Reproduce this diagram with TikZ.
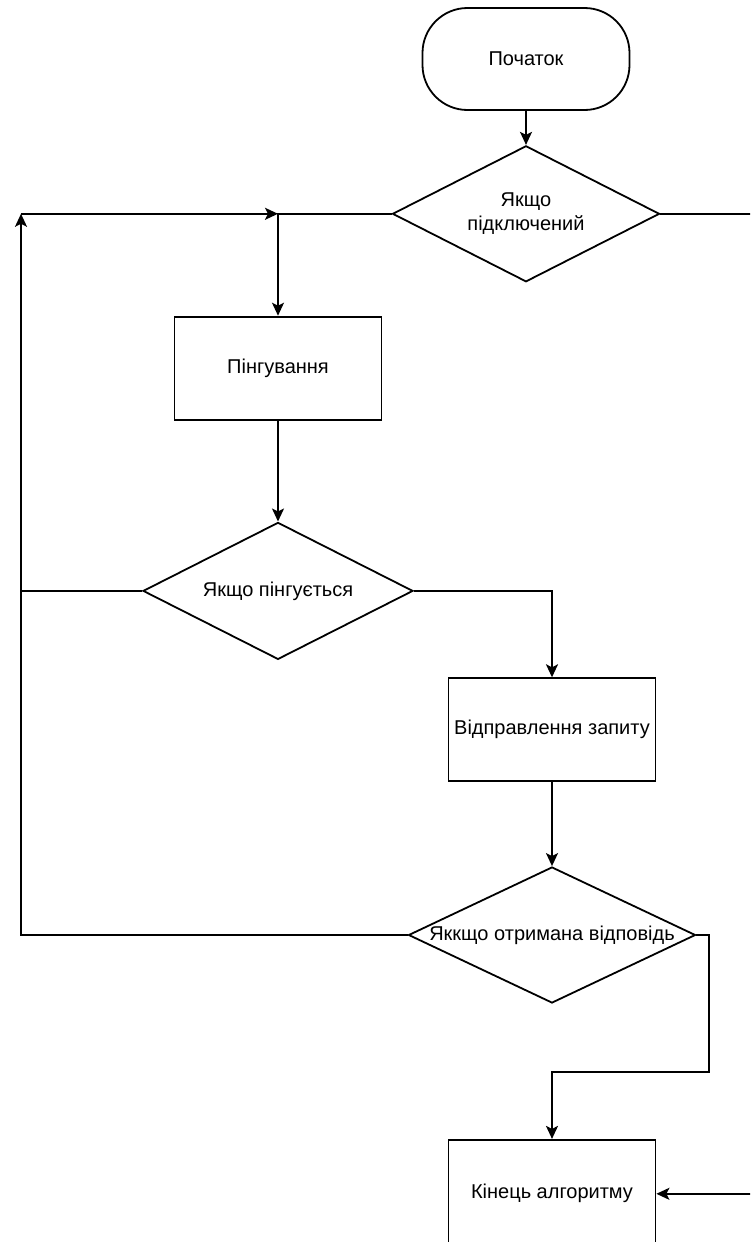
\documentclass[tikz,border=0pt]{standalone}
\usepackage{fontspec}
\setmainfont{Liberation Sans}
\usetikzlibrary{positioning,shapes.geometric,arrows.meta}

\begin{document}
\begin{tikzpicture}[node distance=36pt, auto,
    terminal/.style={rectangle, draw, line width=1.8pt, rounded corners=45pt, minimum width=207pt, minimum height=102pt, font=\fontsize{20}{24}\selectfont},
    block/.style={rectangle, draw, line width=1.8pt, minimum width=207pt, minimum height=103pt, inner sep=0pt, font=\fontsize{20}{24}\selectfont},
    decision/.style={diamond, draw, line width=1.8pt, inner sep=0pt, label={[font=\fontsize{20}{24}\selectfont, align=center]center:#1}},
    line/.style={draw, line width=1.8pt, -{Stealth[length=13pt, width=12pt, inset=3pt]}},
    plain/.style={draw, line width=1.8pt}]
    \path[use as bounding box, clip] (0,0) rectangle (750pt,-1242pt);

    \node [terminal] (start) at (526pt,-59pt) {Початок};
    \node [decision={Якщо\\підключений}, minimum width=267pt, minimum height=136pt, below=34pt of start] (conn) {};
    \node [block, below=33pt of conn, xshift=-248pt] (ping) {Пінгування};
    \node [decision={Якщо пінгується}, minimum width=270pt, minimum height=137pt, below=101pt of ping] (pingok) {};
    \node [block, below=17pt of pingok, xshift=274pt] (request) {Відправлення запиту};
    \node [decision={Яккщо отримана відповідь}, minimum width=287pt, minimum height=136pt, below=84pt of request] (answer) {};
    \node [block, minimum height=108pt, below=135pt of answer] (finish) {Кінець алгоритму};

    % corners of the connectors
    \coordinate (looptop) at (21pt,0 |- conn.west);
    \coordinate (join) at (ping.north |- conn.west);
    \coordinate (bend) at (709pt,-1072pt);
    \coordinate (outer) at (775pt,0 |- conn.east);

    \path [line] (start) -- (conn);
    \path [line] (conn.west) -| (ping);
    \path [line] (looptop) -- (join);
    \path [line] (ping) -- (pingok);
    \path [line] (pingok.east) -| (request);
    \path [plain] (pingok.west) -- (pingok.west -| looptop);
    \path [line] (request) -- (answer);
    \path [line] (answer.west) -| (looptop);
    \path [line] (answer.east) -| (bend) -| (finish);
    \path [line] (conn.east) -- (outer) |- (finish.east);
\end{tikzpicture}
\end{document}
